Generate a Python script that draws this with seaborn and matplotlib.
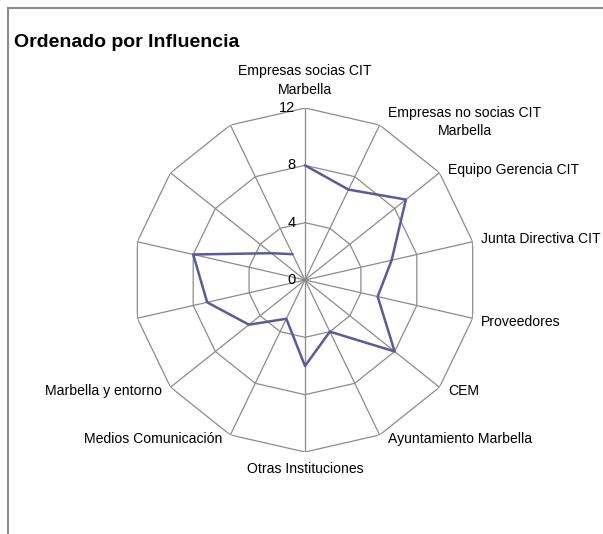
import numpy as np
import pandas as pd
import seaborn as sns
import matplotlib.pyplot as plt
from matplotlib.lines import Line2D

categorias = ["Empresas socias CIT\nMarbella", "Empresas no socias CIT\nMarbella",
              "Equipo Gerencia CIT", "Junta Directiva CIT", "Proveedores", "CEM",
              "Ayuntamiento Marbella", "Otras Instituciones", "Medios Comunicación",
              "Marbella y entorno", "", "", "", ""]
valores = [8, 7, 9, 6.2, 5.2, 8, 4, 6, 3, 5, 7, 8, 3, 2]
anillos = [4, 8, 12]
etiquetas_r = ["0", "4", "8", "12"]

sns.set_theme(style="white")
plt.rcParams['font.family'] = ['Liberation Sans', 'DejaVu Sans']

n = len(categorias)
ang = np.arange(n) * 2 * np.pi / n

fig = plt.figure(figsize=(6.03, 5.34), dpi=100)
fig.patch.set_facecolor("white")
cx, cy, rw, rh = 305 / 603, 1 - 280 / 534, 172 / 603, 172 / 534
ax = fig.add_axes([cx - rw, cy - rh, 2 * rw, 2 * rh], projection="polar")
ax.set_theta_zero_location("N")
ax.set_theta_direction(-1)
ax.set_ylim(0, 12)
ax.grid(False)
ax.spines["polar"].set_visible(False)
ax.patch.set_alpha(0)

gris = "#8c8c8c"
cerrado = np.append(ang, ang[0])
for r in anillos:
    ax.plot(cerrado, [r] * (n + 1), color=gris, lw=0.9)
for a in ang:
    ax.plot([a, a], [0, 12], color=gris, lw=0.9)

df = pd.DataFrame({"ang": cerrado, "valor": valores + valores[:1]})
sns.lineplot(data=df, x="ang", y="valor", sort=False, ax=ax, color="#5a5a9c", lw=1.8)
ax.set_xlabel("")
ax.set_ylabel("")
ax.set_xticks([])
ax.set_yticks([])

# etiquetas radiales
for val, txt in zip([0] + anillos, etiquetas_r):
    ax.annotate(txt, (0, val), xytext=(-7, 0), textcoords="offset points",
                ha="right", va="center", fontsize=10.5, color="black")

# etiquetas de categoria
for a, txt in zip(ang, categorias):
    if not txt:
        continue
    s, c = np.sin(a), np.cos(a)
    if abs(s) < 0.1:
        ha = "center"
        dx = 0
    elif s > 0:
        ha = "left"
        dx = 6
    else:
        ha = "right"
        dx = -6
    if c > 0.95:
        va, dy = "bottom", 8
    elif c < -0.95:
        va, dy = "top", -7
    else:
        va, dy = "center", 2 if c > 0 else -3
    ax.annotate(txt, (a, 12), xytext=(dx, dy), textcoords="offset points",
                ha=ha, va=va, multialignment="center", fontsize=10.1,
                linespacing=1.4, color="black", annotation_clip=False)

fig.text(14 / 603, 1 - 47 / 534, "Ordenado por Influencia", fontsize=14,
         fontweight="bold", ha="left", va="baseline", color="black")

# marco del grafico
fig.add_artist(Line2D([8 / 603, 8 / 603], [0, 1 - 8 / 534], color="#8c8c8c", lw=1.5))
fig.add_artist(Line2D([8 / 603, 1], [1 - 8 / 534, 1 - 8 / 534], color="#8c8c8c", lw=1.5))

fig.savefig("out.png", dpi=100)
